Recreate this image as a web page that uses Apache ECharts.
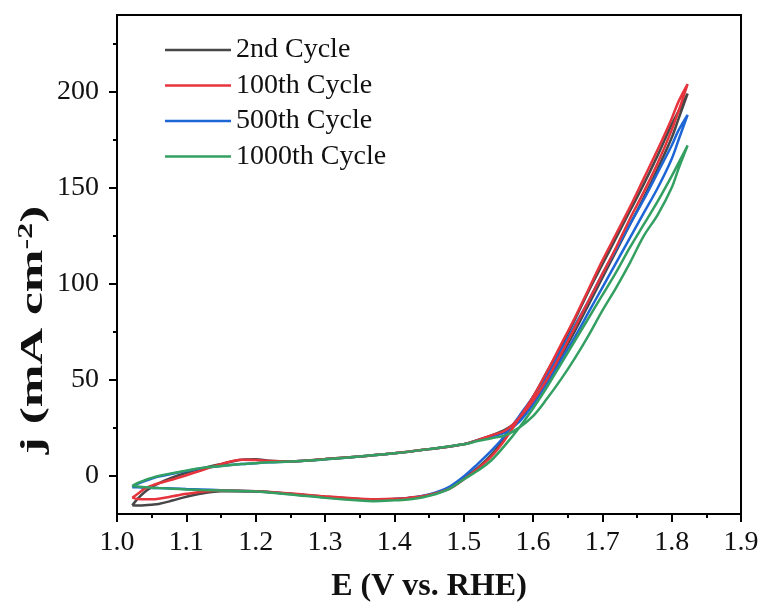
<!DOCTYPE html>
<html>
<head>
<meta charset="utf-8">
<script src="https://cdn.jsdelivr.net/npm/echarts@6/dist/echarts.min.js"></script>
<style>
  html, body { margin: 0; padding: 0; background: #fff; }
  #chart { width: 762px; height: 608px; }
</style>
</head>
<body>
<div id="chart"></div>
<script>
// potentials (V vs. RHE) for the anodic and the return scan
const eFwd = [1.022, 1.03, 1.04, 1.05, 1.06, 1.08, 1.10, 1.12, 1.15, 1.18, 1.20, 1.22, 1.25, 1.30, 1.35, 1.40, 1.45, 1.50, 1.52, 1.54,
  1.56, 1.58, 1.60, 1.62, 1.64, 1.66, 1.68, 1.70, 1.72, 1.74, 1.76, 1.78, 1.80, 1.81, 1.823];
const eRev = [1.823, 1.81, 1.80, 1.78, 1.76, 1.74, 1.72, 1.70, 1.68, 1.66, 1.64, 1.62, 1.60, 1.58, 1.56, 1.54, 1.52, 1.50, 1.48, 1.46,
  1.44, 1.42, 1.40, 1.37, 1.35, 1.30, 1.25, 1.20, 1.15, 1.12, 1.10, 1.08, 1.06, 1.05, 1.04, 1.03, 1.022];

// current density (mA cm-2)
const cycle2Fwd = [-15.5, -12, -8.5, -6, -4, -1, 1.5, 3.5, 6, 8.3, 8.5, 7.8, 7.5, 8.6, 10, 11.6, 13.8, 16.3, 18.5, 21,
  24, 29, 38, 49, 62, 75, 89, 103, 117, 131, 145, 160, 176, 186, 199];
const cycle2Rev = [199, 190, 183, 167, 152, 138, 124, 110, 96, 81, 67, 54, 41, 30, 20, 11, 4, -1.5, -6.5, -9,
  -10.8, -11.8, -12.2, -12.5, -12.2, -11, -9.5, -8.3, -8.2, -9.5, -11, -13, -14.8, -15.2, -15.5, -15.6, -15.5];

const cycle100Fwd = [-11.5, -9.5, -6.8, -5.2, -4, -2, 0.2, 2.5, 6, 8.3, 8.2, 7.6, 7.4, 8.6, 10, 11.6, 13.8, 16.3, 18.5, 21,
  23.5, 30, 39, 50, 63, 77, 91, 105, 119, 134, 148, 163, 180, 190, 204];
const cycle100Rev = [204, 195, 186, 170, 155, 140, 126, 112, 97, 82, 68, 54, 41, 30, 19, 10, 3.5, -2, -6.8, -9.2,
  -10.8, -11.6, -12, -12.3, -12, -10.8, -9.3, -8.2, -7.8, -8.5, -9.5, -10.8, -12, -12.3, -12.3, -12.2, -11.5];

const cycle500Fwd = [-6, -4.2, -2.8, -1.6, -0.5, 1, 2.4, 3.7, 5, 6, 6.5, 6.9, 7.3, 8.5, 9.9, 11.6, 13.8, 16.3, 18.5, 20.5,
  22.5, 28, 37, 48, 60, 72, 85, 98, 111, 124, 137, 150, 165, 175, 188];
const cycle500Rev = [188, 180, 172, 158, 144, 131, 118, 105, 91, 78, 65, 52, 41, 31, 21, 13, 6, -0.5, -5.7, -8.8,
  -10.6, -11.6, -12.2, -12.8, -12.6, -11.3, -9.6, -8.2, -7.6, -7.2, -7, -6.7, -6.5, -6.4, -6.3, -6.1, -6];

const cycle1000Fwd = [-5.3, -3.8, -2.4, -1.2, -0.2, 1.3, 2.6, 3.9, 5, 6, 6.5, 6.9, 7.3, 8.5, 9.9, 11.6, 13.8, 16.3, 18, 19.5,
  21, 25, 31, 40, 50, 61, 73, 86, 98, 111, 125, 136, 150, 160, 172];
const cycle1000Rev = [172, 163, 156, 143, 131, 119, 106, 94, 82, 70, 58, 46, 35, 25, 16, 8, 2.5, -2, -6.8, -9.6,
  -11.4, -12.4, -12.9, -13.3, -13, -11.6, -9.8, -8.3, -7.8, -7.5, -7.2, -6.8, -6.5, -6.3, -6, -5.7, -5.3];

const cycleNames = ["2nd Cycle", "100th Cycle", "500th Cycle", "1000th Cycle"];
const xTicks = [1.0, 1.1, 1.2, 1.3, 1.4, 1.5, 1.6, 1.7, 1.8, 1.9];
const yTicks = [0, 50, 100, 150, 200];
const yMinorTicks = [25, 75, 125, 175, 225];

const FONT = "Liberation Serif";

function loop(fwd, rev) {
  const pts = eFwd.map((e, i) => [e, fwd[i]]);
  return pts.concat(eRev.map((e, i) => [e, rev[i]]));
}

function cv(name, color, fwd, rev) {
  return {
    name: name,
    type: "line",
    data: loop(fwd, rev),
    symbol: "none",
    smooth: 0.35,
    lineStyle: { color: color, width: 2.5 },
    itemStyle: { color: color },
  };
}

const chart = echarts.init(document.getElementById("chart"), null, { renderer: "canvas" });

const tickFont = { fontFamily: FONT, fontSize: 28, color: "#111" };

chart.setOption({
  animation: false,
  backgroundColor: "#fff",
  grid: {
    left: 117, right: 21, top: 15, bottom: 91,
    show: true, borderColor: "#000", borderWidth: 2,
  },
  legend: {
    data: cycleNames,
    orient: "vertical",
    left: 160,
    top: 31,
    icon: "rect",
    itemWidth: 66,
    itemHeight: 2.5,
    itemGap: 7.5,
    textStyle: { fontFamily: FONT, fontSize: 28, color: "#111", lineHeight: 28 },
  },
  xAxis: {
    type: "value",
    min: xTicks[0],
    max: xTicks[xTicks.length - 1],
    interval: 0.1,
    name: "E (V vs. RHE)",
    nameLocation: "middle",
    nameGap: 57,
    nameTextStyle: { fontFamily: FONT, fontSize: 32, fontWeight: "bold", color: "#111" },
    axisLine: { onZero: false, lineStyle: { color: "#000", width: 2 } },
    axisTick: { inside: false, length: 8, lineStyle: { color: "#000", width: 2 } },
    minorTick: { show: true, splitNumber: 2, length: 4, lineStyle: { color: "#000", width: 2 } },
    splitLine: { show: false },
    axisLabel: Object.assign({ margin: 15, formatter: (v) => v.toFixed(1) }, tickFont),
  },
  yAxis: [
    {
      type: "value",
      min: -20,
      max: 240,
      axisLine: { show: true, onZero: false, lineStyle: { color: "#000", width: 2 } },
      axisTick: { show: true, length: 8, customValues: yTicks, lineStyle: { color: "#000", width: 2 } },
      axisLabel: Object.assign({ margin: 18, customValues: yTicks }, tickFont),
      splitLine: { show: false },
    },
    {
      type: "value",
      min: -20,
      max: 240,
      position: "left",
      axisLine: { show: false },
      axisTick: { show: true, length: 4, customValues: yMinorTicks, lineStyle: { color: "#000", width: 2 } },
      axisLabel: { show: false },
      splitLine: { show: false },
    },
  ],
  graphic: [
    {
      type: "text",
      x: 34,
      y: 330,
      rotation: Math.PI / 2,
      scaleX: 1.6,
      style: {
        text: "{a|j (mA cm}{s|-2}{a|)}",
        align: "center",
        verticalAlign: "middle",
        fill: "#111",
        rich: {
          a: { fontFamily: FONT, fontSize: 32, fontWeight: "bold", fill: "#111" },
          s: { fontFamily: FONT, fontSize: 20, fontWeight: "bold", fill: "#111", verticalAlign: "top", padding: [0, 0, 14, 0] },
        },
      },
    },
  ],
  series: [
    cv(cycleNames[0], "#474747", cycle2Fwd, cycle2Rev),
    cv(cycleNames[2], "#1e66d6", cycle500Fwd, cycle500Rev),
    cv(cycleNames[1], "#e5343c", cycle100Fwd, cycle100Rev),
    cv(cycleNames[3], "#33a062", cycle1000Fwd, cycle1000Rev),
  ],
});
</script>
</body>
</html>
